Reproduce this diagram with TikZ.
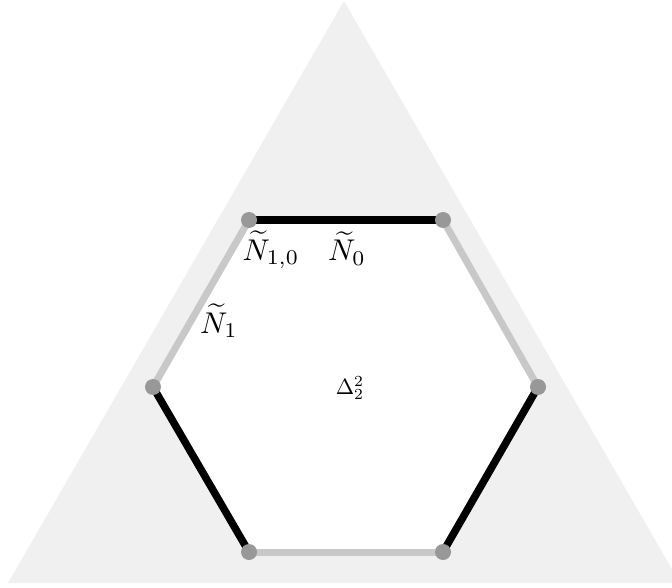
\documentclass[tikz,border=0pt]{standalone}
\usepackage{graphicx}
\usepackage{amsmath}
\newcommand{\bigtxt}[1]{\scalebox{3.0}{#1}}
\newcommand{\midtxt}[1]{\scalebox{2.2}{#1}}
\begin{document}
\begin{tikzpicture}[x=1pt,y=-1pt,
  blackedge/.style={line width=7.5pt,black},
  grayedge/.style={line width=7pt,color=edgegray},
  vdot/.style={circle,fill=dotgray,inner sep=0pt,minimum size=16pt},
  lbl/.style={inner sep=0pt,anchor=base}]
\definecolor{edgegray}{RGB}{200,200,200}
\definecolor{dotgray}{RGB}{152,152,152}
\definecolor{trigray}{RGB}{240,240,240}
\useasboundingbox (0,0) rectangle (672,588);
\clip (0,0) rectangle (672,588);
\coordinate (T1) at (344,1);
\coordinate (T2) at (8,583);
\coordinate (T3) at (680,583);
\fill[trigray] (T1) -- (T2) -- (T3) -- cycle;
\coordinate (A) at (249,220);
\coordinate (B) at (443,220);
\coordinate (C) at (538,387);
\coordinate (D) at (443,552);
\coordinate (E) at (249,552);
\coordinate (F) at (153,387);
\fill[white] (A) -- (B) -- (C) -- (D) -- (E) -- (F) -- cycle;
\draw[grayedge] (B) -- (C);
\draw[grayedge] (D) -- (E);
\draw[grayedge] (F) -- (A);
\draw[blackedge] (A) -- (B);
\draw[blackedge] (C) -- (D);
\draw[blackedge] (E) -- (F);
\foreach \v in {A,B,C,D,E,F} \node[vdot] (d\v) at (\v) {};
\node[lbl] (n10) at (271,260) {\bigtxt{$\widetilde{N}_{1,0}$}};
\node[lbl] (n0) at (347,261) {\bigtxt{$\widetilde{N}_0$}};
\node[lbl] (n1) at (219,333) {\bigtxt{$\widetilde{N}_1$}};
\node[lbl] (del) at (350,394) {\midtxt{$\Delta_2^2$}};
\end{tikzpicture}
\end{document}
